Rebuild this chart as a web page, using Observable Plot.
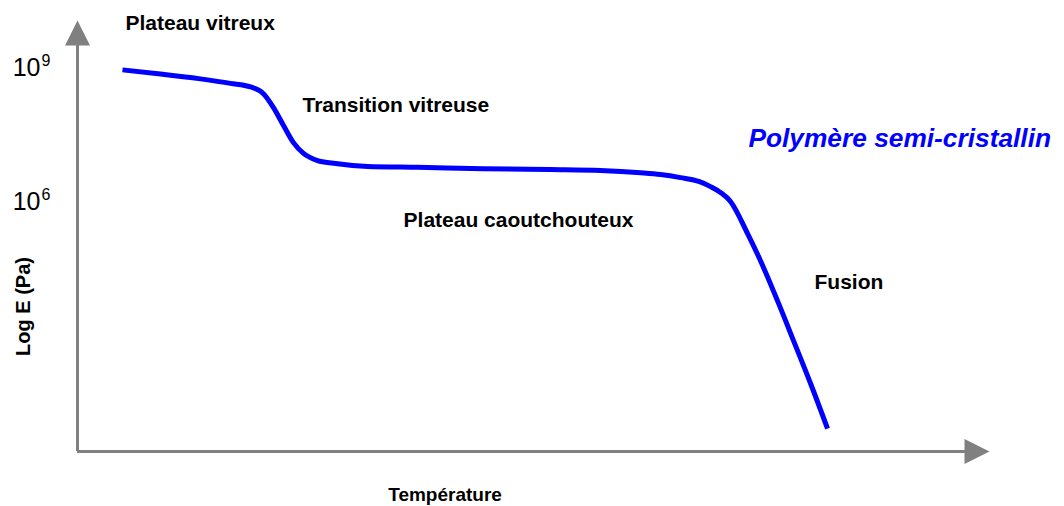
<!DOCTYPE html>
<html>
<head>
<meta charset="utf-8">
<script src="https://cdn.jsdelivr.net/npm/d3@7"></script>
<script src="https://cdn.jsdelivr.net/npm/@observablehq/plot@0.6"></script>
<style>
  html, body { margin: 0; padding: 0; background: #fff; }
  #chart svg { display: block; }
</style>
</head>
<body>
<div id="chart"></div>
<script>
// Curve: temperature (arbitrary units 0–100) vs log10 E (Pa)
const temperature = [4.93, 9.10, 13.49, 16.78, 18.97, 20.39, 21.49, 22.59, 23.68, 24.78, 26.32, 28.07, 31.80, 37.28, 44.52, 51.86, 57.35, 61.73, 63.93, 66.12, 68.20, 69.41, 70.50, 71.60, 73.46, 74.89, 76.75, 78.51, 80.37, 82.24];
const logE        = [8.95, 8.86, 8.75, 8.65, 8.57, 8.42, 8.11, 7.71, 7.33, 7.09, 6.93, 6.87, 6.80, 6.78, 6.75, 6.73, 6.71, 6.66, 6.62, 6.55, 6.46, 6.35, 6.22, 6.02, 5.31, 4.70, 3.81, 2.92, 1.97, 0.96];

// Y tick labels (powers of ten)
const tickValues = [9, 6];
const tickBase = ["10", "10"];
const tickExponents = ["9", "6"];

// Annotations (text, temperature, logE anchor)
const annotationText = ["Plateau vitreux", "Transition vitreuse", "Plateau caoutchouteux", "Fusion"];
const annotationT = [5.26, 24.67, 35.75, 80.81];
const annotationE = [9.98, 8.16, 5.61, 4.23];

const seriesTitle = "Polymère semi-cristallin";
const xTitle = "Température";
const yTitle = "Log E (Pa)";

const curve = temperature.map((t, i) => ({t, e: logE[i]}));
const annotations = annotationText.map((text, i) => ({text, t: annotationT[i], e: annotationE[i]}));
const ticks = tickValues.map((v, i) => ({v, base: tickBase[i], exp: tickExponents[i]}));

const X0 = 0, X1 = 100, Y0 = 0.45, Y1 = 10.05;
const axisColor = "#808080";
const font = "'Liberation Sans', Arial, Helvetica, sans-serif";

// Filled arrow head with its tip at the origin, pointing up
const arrowHead = {
  draw(ctx) {
    ctx.moveTo(0, 0);
    ctx.lineTo(-12.5, 25);
    ctx.lineTo(12.5, 25);
    ctx.closePath();
  }
};

const chart = Plot.plot({
  width: 1064,
  height: 506,
  marginLeft: 77,
  marginRight: 75,
  marginTop: 20,
  marginBottom: 55,
  style: {fontFamily: font, background: "#fff"},
  x: {domain: [X0, X1], axis: null},
  y: {domain: [Y0, Y1], axis: null},
  marks: [
    // axes
    Plot.ruleY([Y0], {x1: X0, x2: 97.5, stroke: axisColor, strokeWidth: 3}),
    Plot.ruleX([X0], {y1: Y0, y2: 9.6, stroke: axisColor, strokeWidth: 3}),
    Plot.dot([{t: X0, e: Y1}], {x: "t", y: "e", symbol: arrowHead, r: 5, fill: axisColor, stroke: "none"}),
    Plot.dot([{t: X1, e: Y0}], {x: "t", y: "e", symbol: arrowHead, r: 5, fill: axisColor, stroke: "none", rotate: 90}),
    // y tick labels
    Plot.text(ticks, {x: X0, y: "v", text: "base", textAnchor: "end", dx: -37, fontSize: 25, fill: "#000"}),
    Plot.text(ticks, {x: X0, y: "v", text: "exp", textAnchor: "start", dx: -36, dy: -7, fontSize: 16, fill: "#000"}),
    // curve
    Plot.line(curve, {x: "t", y: "e", stroke: "#0000ff", strokeWidth: 5, curve: "monotone-x", strokeLinecap: "butt"}),
    // annotations
    Plot.text(annotations, {x: "t", y: "e", text: "text", textAnchor: "start", fontSize: 21, fontWeight: "bold", fill: "#000"}),
    Plot.text([seriesTitle], {x: 73.57, y: 7.41, textAnchor: "start", fontSize: 26.3, fontWeight: "bold", fontStyle: "italic", fill: "#0000ff"}),
    // axis titles
    Plot.text([xTitle], {x: 40.3, frameAnchor: "bottom", lineAnchor: "middle", textAnchor: "middle", dy: 43, fontSize: 19, fontWeight: "bold", fill: "#000"}),
    Plot.text([yTitle], {y: 3.68, frameAnchor: "left", textAnchor: "middle", lineAnchor: "middle", dx: -54, rotate: -90, fontSize: 20, fontWeight: "bold", fill: "#000"})
  ]
});

document.getElementById("chart").appendChild(chart);
</script>
</body>
</html>
